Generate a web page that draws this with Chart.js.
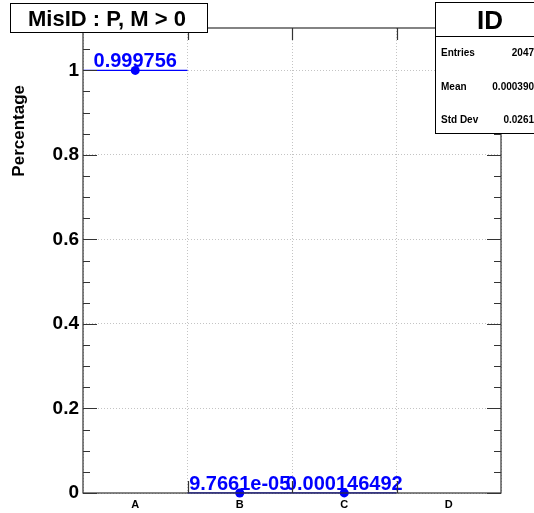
<!DOCTYPE html>
<html>
<head>
<meta charset="utf-8">
<script src="https://cdn.jsdelivr.net/npm/chart.js@4.4.0/dist/chart.umd.min.js"></script>
<style>
  html, body { margin: 0; padding: 0; background: #fff; }
  canvas { display: block; }
</style>
</head>
<body>
<canvas id="misidChart" width="534" height="513"></canvas>
<script>
  // --- data ---
  const categories = ['A', 'B', 'C', 'D'];
  const fractions = [0.999756, 9.7661e-05, 0.000146492, null]; // D is empty, nothing drawn
  const yTicks = [0, 0.2, 0.4, 0.6, 0.8, 1];
  const statNames = ['Entries', 'Mean', 'Std Dev'];
  const statValues = ['2047', '0.000390', '0.0261'];
  const histTitle = 'MisID : P, M > 0';
  const histName = 'ID';
  const yTitle = 'Percentage';

  const FONT = '"Liberation Sans", Arial, Helvetica, sans-serif';
  const BLUE = '#0000ff';
  const FRAME = '#333333';

  // ROOT style %g formatting
  function fmtG(v) {
    if (v === 0) return '0';
    const e = Math.floor(Math.log10(Math.abs(v)));
    if (e < -4 || e >= 6) {
      let [m, ex] = v.toExponential(5).split('e');
      if (m.indexOf('.') >= 0) m = m.replace(/0+$/, '').replace(/\.$/, '');
      const n = parseInt(ex, 10);
      return m + 'e' + (n < 0 ? '-' : '+') + String(Math.abs(n)).padStart(2, '0');
    }
    let s = v.toPrecision(6);
    if (s.indexOf('.') >= 0) s = s.replace(/0+$/, '').replace(/\.$/, '');
    return s;
  }

  // horizontal error bars (bin width) under the markers
  const binBars = {
    id: 'binBars',
    beforeDatasetsDraw(chart) {
      const ctx = chart.ctx;
      const x = chart.scales.x, y = chart.scales.y;
      const half = x.width / categories.length / 2;
      ctx.save();
      ctx.strokeStyle = BLUE;
      ctx.lineWidth = 1.2;
      fractions.forEach(function (v, i) {
        if (v === null) return;
        const px = x.getPixelForValue(i);
        const py = y.getPixelForValue(v);
        ctx.beginPath();
        ctx.moveTo(px - half, py);
        ctx.lineTo(px + half, py);
        ctx.stroke();
      });
      ctx.restore();
    }
  };

  // frame, inward ticks, value labels, title and stats boxes
  const rootDecor = {
    id: 'rootDecor',
    afterDraw(chart) {
      const ctx = chart.ctx;
      const a = chart.chartArea;
      const x = chart.scales.x, y = chart.scales.y;
      ctx.save();

      // value labels above the points
      ctx.font = 'bold 20px ' + FONT;
      ctx.fillStyle = BLUE;
      ctx.textAlign = 'center';
      ctx.textBaseline = 'alphabetic';
      fractions.forEach(function (v, i) {
        if (v === null) return;
        ctx.fillText(fmtG(v), x.getPixelForValue(i), y.getPixelForValue(v) - 3);
      });

      // frame
      ctx.strokeStyle = FRAME;
      ctx.lineWidth = 1.2;
      ctx.strokeRect(a.left, a.top, a.right - a.left, a.bottom - a.top);

      // y ticks: major every 0.2, minor every 0.05, both sides
      ctx.beginPath();
      for (let k = 0; k * 0.05 <= y.max + 1e-9; k++) {
        const py = Math.round(y.getPixelForValue(k * 0.05)) + 0.5;
        const len = (k % 4 === 0) ? 14 : 7;
        ctx.moveTo(a.left, py); ctx.lineTo(a.left + len, py);
        ctx.moveTo(a.right, py); ctx.lineTo(a.right - len, py);
      }
      // x ticks at bin edges, bottom and top
      for (let i = 1; i < categories.length; i++) {
        const px = Math.round((x.getPixelForValue(i - 1) + x.getPixelForValue(i)) / 2) + 0.5;
        ctx.moveTo(px, a.bottom); ctx.lineTo(px, a.bottom - 12);
        ctx.moveTo(px, a.top); ctx.lineTo(px, a.top + 12);
      }
      ctx.stroke();

      // y axis title
      ctx.save();
      ctx.translate(24, 85);
      ctx.rotate(-Math.PI / 2);
      ctx.font = 'bold 17px ' + FONT;
      ctx.fillStyle = '#000';
      ctx.textAlign = 'right';
      ctx.fillText(yTitle, 0, 0);
      ctx.restore();

      // title box
      ctx.fillStyle = '#fff';
      ctx.fillRect(10, 3, 197, 29);
      ctx.strokeStyle = '#000';
      ctx.lineWidth = 1;
      ctx.strokeRect(10.5, 3.5, 197, 29);
      ctx.fillStyle = '#000';
      ctx.font = 'bold 22px ' + FONT;
      ctx.textAlign = 'center';
      ctx.fillText(histTitle, 107, 26);

      // stats box
      ctx.fillStyle = '#fff';
      ctx.fillRect(435, 2, 99, 132);
      ctx.strokeRect(435.5, 2.5, 110, 131);
      ctx.beginPath();
      ctx.moveTo(435, 36.5); ctx.lineTo(534, 36.5);
      ctx.stroke();
      ctx.fillStyle = '#000';
      ctx.font = 'bold 26px ' + FONT;
      ctx.textAlign = 'center';
      ctx.fillText(histName, 490, 29);
      ctx.font = 'bold 10px ' + FONT;
      statNames.forEach(function (name, i) {
        const py = 56 + i * 33.5;
        ctx.textAlign = 'left';
        ctx.fillText(name, 441, py);
        ctx.textAlign = 'right';
        ctx.fillText(statValues[i], 534, py);
      });

      ctx.restore();
    }
  };

  new Chart(document.getElementById('misidChart').getContext('2d'), {
    type: 'line',
    data: {
      labels: categories,
      datasets: [{
        data: fractions,
        showLine: false,
        pointRadius: 4.5,
        pointHoverRadius: 4.5,
        pointBackgroundColor: BLUE,
        pointBorderColor: BLUE,
        pointBorderWidth: 0,
        clip: false
      }]
    },
    options: {
      responsive: false,
      animation: false,
      events: [],
      devicePixelRatio: 1,
      layout: { padding: { top: 28, right: 33, left: 0, bottom: 0 } },
      plugins: {
        legend: { display: false },
        tooltip: { enabled: false },
        title: { display: false }
      },
      scales: {
        x: {
          type: 'category',
          offset: true,
          afterFit: function (s) { s.height = 20; },
          grid: { offset: true, color: '#c4c4c4', lineWidth: 1, drawTicks: false },
          border: { display: false, dash: [1, 2] },
          ticks: {
            padding: 5,
            color: '#000',
            font: { family: FONT, size: 11, weight: 'bold' }
          }
        },
        y: {
          min: 0,
          max: 1.1,
          afterFit: function (s) { s.width = 83; },
          afterBuildTicks: function (s) { s.ticks = yTicks.map(function (v) { return { value: v }; }); },
          grid: { color: '#c4c4c4', lineWidth: 1, drawTicks: false },
          border: { display: false, dash: [1, 2] },
          ticks: {
            padding: 4,
            color: '#000',
            font: { family: FONT, size: 19, weight: 'bold' },
            callback: function (v) { return String(+Number(v).toFixed(2)); }
          }
        }
      }
    },
    plugins: [binBars, rootDecor]
  });
</script>
</body>
</html>
